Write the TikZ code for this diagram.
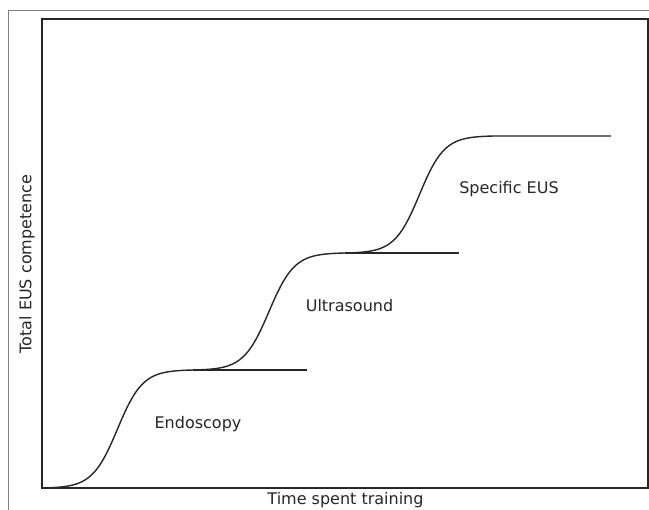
\documentclass[tikz,border=0pt]{standalone}
\usepackage{fontspec}
\setmainfont{DejaVu Sans}
\usetikzlibrary{arrows}

\begin{document}
\begin{tikzpicture}[
		x=1pt, y=1pt,
		frameline/.style={draw=gray, line width=1pt},
		axis/.style={draw=black!85, line width=1.6pt},
		curve/.style={draw=black!85, line width=1.4pt},
		label/.style={font=\fontsize{16}{19}\selectfont, text=black!85, inner sep=0pt},
		declare function={sig(\t)=(1/(1+exp(-12*(\t-0.5)))-0.002473)/0.995054;}
	]
		\useasboundingbox (0,0) rectangle (649,510);
		% outer frame
		\draw[frameline] (8.5,0) -- (8.5,499.5) -- (649,499.5);
		% axes box
		\draw[axis] (42,22) rectangle (648,491);
		% three learning steps
		\draw[curve] plot[domain=0:1, samples=80] ({42+151*\x},{22+118*sig(\x)});
		\draw[curve] plot[domain=0:1, samples=80] ({193+152*\x},{140+117*sig(\x)});
		\draw[curve] plot[domain=0:1, samples=80] ({345+149*\x},{257+117*sig(\x)})
			-- (611,374);
		\draw[curve] (193,140) -- (307,140);
		\draw[curve] (345,257) -- (459,257);
		% texts
		\node[label] (endo) at (198,86) {Endoscopy};
		\node[label] (ultra) at (349.5,204) {Ultrasound};
		\node[label] (spec) at (509,321) {Specific EUS};
		\node[label] (xlab) at (345.5,10) {Time spent training};
		\node[label, rotate=90] (ylab) at (27,246) {Total EUS competence};
	\end{tikzpicture}
\end{document}
